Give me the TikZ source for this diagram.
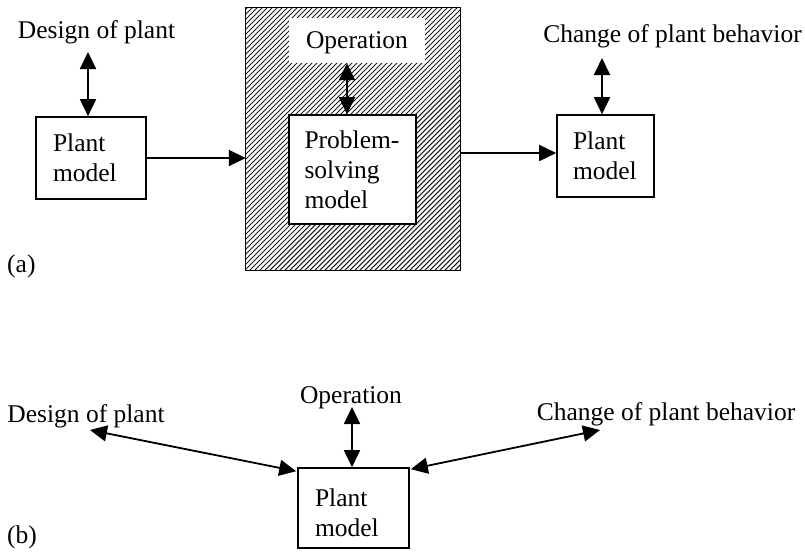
\documentclass[tikz,border=0pt]{standalone}
\usepackage{fontspec}
\setmainfont{Liberation Serif}
\usetikzlibrary{arrows.meta}
\begin{document}
\begin{tikzpicture}[x=1pt,y=-1pt,
  every node/.style={font=\fontsize{25.5}{30}\selectfont},
  lbl/.style={inner sep=0pt, anchor=base},
  box/.style={draw, line width=1.6pt, fill=white, align=left, inner ysep=0pt},
  hatch/.style={line width=1.05pt, black!90},
  arr/.style={line width=1.8pt, -{Triangle[length=17pt,width=16pt]}},
  dbl/.style={line width=1.8pt, {Triangle[length=17pt,width=16pt]}-{Triangle[length=17pt,width=16pt]}},
]
\useasboundingbox (0,0) rectangle (805,551);

% ---------- (a) ----------
\node[inner sep=0pt, minimum width=214pt, minimum height=262pt] (hb) at (353,139) {};
\begin{scope}
  \clip (hb.south west) rectangle (hb.north east);
  \foreach \c in {250,255,...,740} \draw[hatch] (\c,0) -- ({\c-300},300);
\end{scope}
\draw[line width=0.8pt] (hb.south west) rectangle (hb.north east);

\node[fill=white, inner sep=0pt, minimum width=136pt, minimum height=45pt, text depth=0pt] (op) at (357,40.5) {Operation\hspace{9pt}};
\node[box, minimum width=127pt, minimum height=109pt, text width=96pt, inner xsep=15.5pt] (ps) at (352.5,169.5) {Problem-\\solving\\model};

\node[box, minimum width=110pt, minimum height=82pt, text width=76pt, inner xsep=17pt] (pa) at (91,158) {Plant\\model};
\node[box, minimum width=97pt, minimum height=82pt, text width=65pt, inner xsep=16pt] (pr) at (605.5,156) {Plant\\model};

\node[lbl] (d1) at (96.5,38) {Design of plant};
\node[lbl] (c1) at (672.5,42) {Change of plant behavior};
\node[lbl, anchor=base west] (la) at (7,272) {(a)};

\coordinate (t1) at (88,52);
\draw[dbl] (t1) -- (t1 |- pa.north);
\draw[arr] (pa.east) -- (pa.east -| hb.west);
\draw[dbl] ([xshift=-5.5pt]ps.north) -- ([xshift=-5.5pt]ps.north |- op.south);
\draw[arr] ([yshift=3pt]pr.west -| hb.east) -- ([yshift=3pt]pr.west);
\coordinate (t3) at (602,58);
\draw[dbl] (t3) -- (t3 |- pr.north);

% ---------- (b) ----------
\node[box, minimum width=111pt, minimum height=80pt, text width=77pt, inner xsep=17pt, text height=27pt] (pb) at (353.5,508) {Plant\\model};

\node[lbl] (d2) at (86,422) {Design of plant};
\node[lbl] (o2) at (351,403) {Operation};
\node[lbl] (c2) at (666,420) {Change of plant behavior};
\node[lbl, anchor=base west] (lb) at (7,543) {(b)};

\coordinate (t4) at (90,430);
\draw[dbl] (t4) -- ([xshift=-1pt,yshift=-4pt]pb.north west);
\coordinate (t5) at (352,407);
\draw[dbl] (t5) -- (t5 |- pb.north);
\coordinate (t6) at (600,430);
\draw[dbl] ([xshift=1pt,yshift=-2pt]pb.north east) -- (t6);
\end{tikzpicture}
\end{document}
